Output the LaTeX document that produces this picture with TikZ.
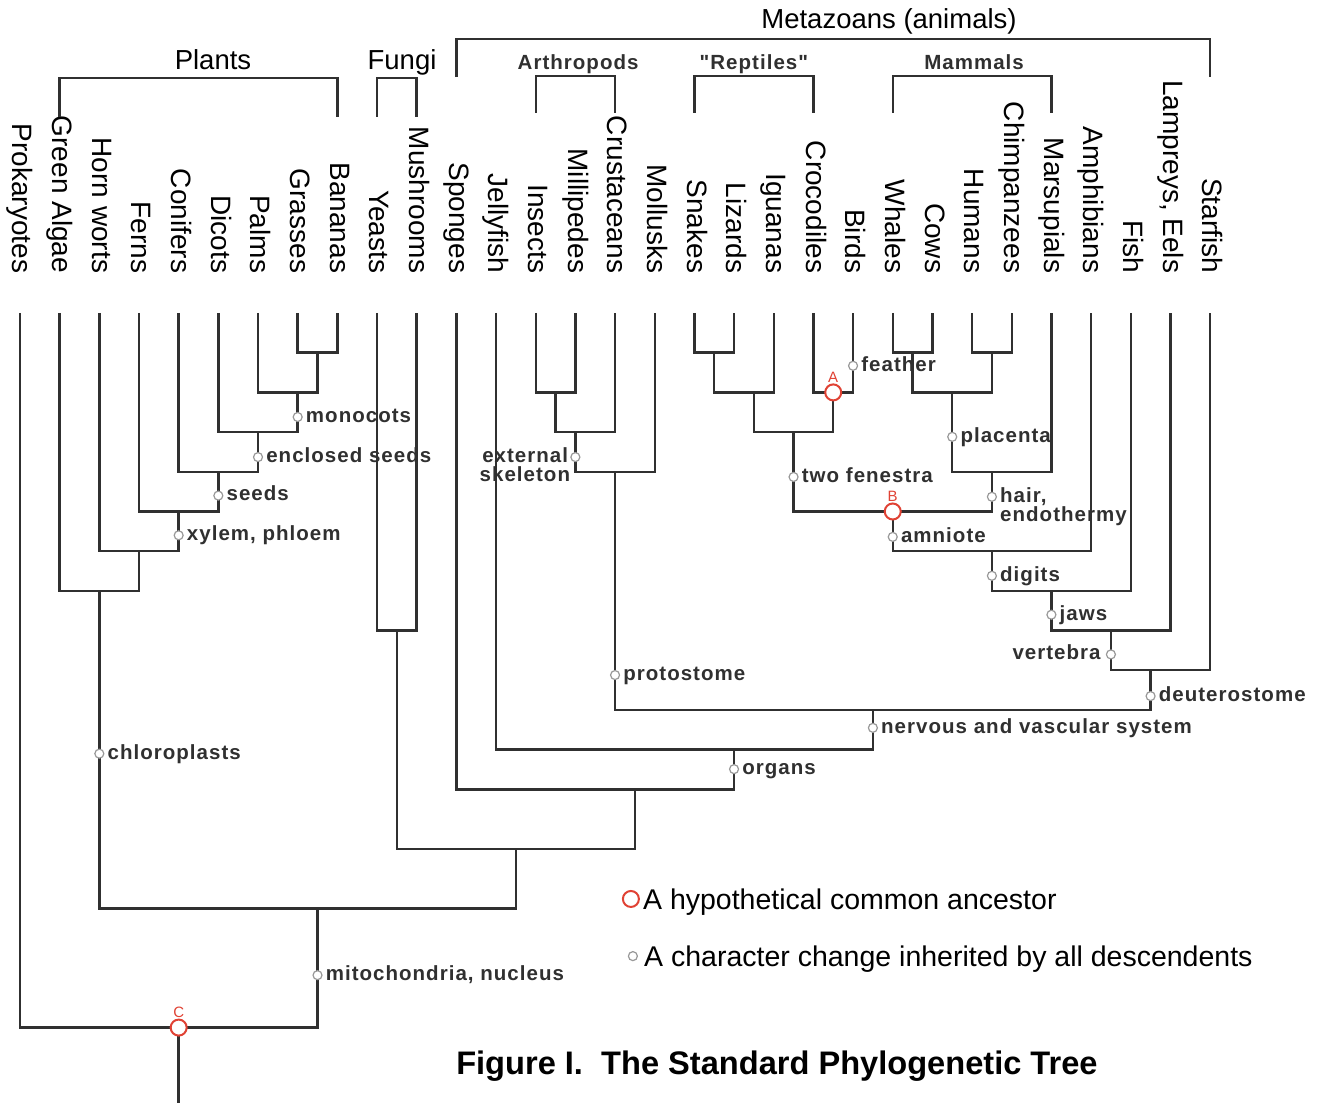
\documentclass[tikz,border=0pt]{standalone}
\usepackage{fontspec}
\setmainfont{Liberation Sans}
\newfontfamily\traitfont[LetterSpace=5]{Liberation Sans}
\definecolor{ancred}{RGB}{224,66,52}
\definecolor{treegray}{RGB}{48,48,48}

\tikzset{
          branch/.style = {draw=treegray, line width=2.4pt},
          change/.style = {circle, draw=black!40, fill=white, line width=1.2pt, minimum size=9pt, inner sep=0pt},
          ancestor/.style = {circle, draw=ancred, fill=white, line width=2pt, minimum size=16pt, inner sep=0pt},
          anclabel/.style = {anchor=south, inner sep=1pt, text=ancred, font=\fontsize{15}{15}\selectfont},
          taxon/.style = {rotate=-90, anchor=east, inner sep=0pt, text height=20pt, text depth=5.6pt, font=\fontsize{28}{30}\selectfont},
          group/.style = {anchor=base, inner sep=0pt, font=\fontsize{27.5}{30}\selectfont},
          trait/.style = {inner sep=0pt, text height=14.8pt, text depth=4.1pt, text=treegray, font=\traitfont\bfseries\fontsize{20.5}{22}\selectfont},
          keytext/.style = {anchor=west, inner sep=0pt, text height=20.5pt, text depth=0pt, font=\fontsize{28.5}{30}\selectfont},
          caption/.style = {anchor=base, inner sep=0pt, font=\bfseries\fontsize{32.6}{34}\selectfont}
        }

\begin{document}
\begin{tikzpicture}[x=39.67pt,y=39.7pt]
          \useasboundingbox (-0.504,7.884) rectangle (32.796,-19.899);

          % taxa along the top
          \foreach \i/\name in {0/Prokaryotes, 1/Green Algae, 2/Horn worts, 3/Ferns, 4/Conifers, 5/Dicots, 6/Palms, 7/Grasses, 8/Bananas, 9/Yeasts, 10/Mushrooms, 11/Sponges, 12/Jellyfish, 13/Insects, 14/Millipedes, 15/Crustaceans, 16/Mollusks, 17/Snakes, 18/Lizards, 19/Iguanas, 20/Crocodiles, 21/Birds, 22/Whales, 23/Cows, 24/Humans, 25/Chimpanzees, 26/Marsupials, 27/Amphibians, 28/Fish, 29/{Lampreys, Eels}, 30/Starfish}{
            \coordinate (tip\i) at (\i,0);
            \node[taxon] (taxon\i) at (\i,1) {\name};
          }

          % group brackets
          \foreach \a/\b/\lo/\hi in {1/8/4.94/5.92, 9/10/4.94/5.92, 11/30/5.94/6.90, 13/15/5.04/5.97, 17/20/5.04/5.97, 22/26/5.04/5.97}{
            \draw[branch] (\a,\lo) -- (\a,\hi) -- (\b,\hi) -- (\b,\lo);
          }
          \node[group] (plantsname) at (4.865,6.121) {Plants};
          \node[group] (funginame) at (9.63,6.121) {Fungi};
          \node[group] (metazoaname) at (21.906,7.154) {Metazoans (animals)};
          \node[trait, anchor=base] (arthroname) at (14.07,6.134) {Arthropods};
          \node[trait, anchor=base] (reptname) at (18.5,6.134) {"Reptiles"};
          \node[trait, anchor=base] (mammname) at (24.05,6.134) {Mammals};

          % branch points
          \coordinate (gb) at (7.5,-1);
          \coordinate (mono) at (7,-2);
          \coordinate (angio) at (6,-3);
          \coordinate (seedpl) at (5,-4);
          \coordinate (vascpl) at (4,-5);
          \coordinate (landpl) at (3,-6);
          \coordinate (plantae) at (2,-7);
          \coordinate (fungj) at (9.5,-8);
          \coordinate (insmil) at (13.5,-2);
          \coordinate (mandib) at (14,-3);
          \coordinate (protoj) at (15,-4);
          \coordinate (snliz) at (17.5,-1);
          \coordinate (squam) at (18.5,-2);
          \coordinate (archo) at (20.5,-2);
          \coordinate (diaps) at (19.5,-3);
          \coordinate (whcow) at (22.5,-1);
          \coordinate (huchim) at (24.5,-1);
          \coordinate (plac) at (23.5,-2);
          \coordinate (mammj) at (24.5,-4);
          \coordinate (amnio) at (22,-5);
          \coordinate (tetra) at (24.5,-6);
          \coordinate (gnath) at (26,-7);
          \coordinate (vertj) at (27.5,-8);
          \coordinate (deutj) at (28.5,-9);
          \coordinate (bilat) at (21.5,-10);
          \coordinate (eumet) at (18,-11);
          \coordinate (metaz) at (15.5,-12);
          \coordinate (opist) at (12.5,-13.5);
          \coordinate (eukar) at (7.5,-15);
          \coordinate (life) at (4,-18);
          \coordinate (root) at (4,-19.9);

          \foreach \a/\j/\b in {tip7/gb/tip8, tip6/mono/gb, tip5/angio/mono, tip4/seedpl/angio, tip3/vascpl/seedpl, tip2/landpl/vascpl, tip1/plantae/landpl, tip9/fungj/tip10, tip13/insmil/tip14, insmil/mandib/tip15, mandib/protoj/tip16, tip17/snliz/tip18, snliz/squam/tip19, tip20/archo/tip21, squam/diaps/archo, tip22/whcow/tip23, tip24/huchim/tip25, whcow/plac/huchim, plac/mammj/tip26, diaps/amnio/mammj, amnio/tetra/tip27, tetra/gnath/tip28, gnath/vertj/tip29, vertj/deutj/tip30, protoj/bilat/deutj, tip12/eumet/bilat, tip11/metaz/eumet, fungj/opist/metaz, plantae/eukar/opist, tip0/life/eukar}{
            \draw[branch] (\a) |- (\j) -| (\b);
          }
          \draw[branch] (life) -- (root);

          % character changes
          \foreach \nm/\x/\y/\txt in {monocots/7/2.62/monocots, enclosed/6/3.63/enclosed seeds, seeds/5/4.6/seeds, xylem/4/5.6/{xylem, phloem}, chloro/2/11.1/chloroplasts, mito/7.5/16.68/{mitochondria, nucleus}, protost/15/9.12/protostome, feather/21/1.33/feather, fenestra/19.5/4.13/two fenestra, placenta/23.5/3.12/placenta, hair/24.5/4.63/{hair,}, amniote/22/5.64/amniote, digits/24.5/6.62/digits, jaws/26/7.6/jaws, deutero/28.5/9.65/deuterostome, nervous/21.5/10.45/nervous and vascular system, organs/18/11.49/organs}{
            \node[change] (\nm) at (\x,-\y) {};
            \node[trait, anchor=west] (\nm lab) at ([xshift=3pt]\nm.east) {\txt};
          }
          \node[trait, anchor=west] (endolab) at ([yshift=-19pt]hairlab.west) {endothermy};

          \node[change] (vertebra) at (27.5,-8.6) {};
          \node[trait, anchor=east] (vertebralab) at ([xshift=-5pt]vertebra.west) {vertebra};
          \node[change] (external) at (14,-3.63) {};
          \node[trait, anchor=east] (externallab) at ([xshift=-2pt]external.west) {external};
          \node[trait, anchor=east] (skeletonlab) at ([xshift=2pt,yshift=-19pt]externallab.east) {skeleton};

          % hypothetical ancestors
          \node[ancestor] (ancA) at (archo) {};
          \node[anclabel] (labA) at (ancA.north) {A};
          \node[ancestor] (ancB) at (amnio) {};
          \node[anclabel] (labB) at (ancB.north) {B};
          \node[ancestor] (ancC) at (life) {};
          \node[anclabel] (labC) at (ancC.north) {C};

          % key
          \node[ancestor] (keyanc) at (15.4,-14.76) {};
          \node[keytext] (keyanctext) at ([xshift=3pt]keyanc.east) {A hypothetical common ancestor};
          \node[change] (keychg) at (15.45,-16.2) {};
          \node[keytext] (keychgtext) at ([xshift=6pt]keychg.east) {A character change inherited by all descendents};

          \node[caption] (title) at (19.08,-19.19) {Figure I.~~The Standard Phylogenetic Tree};
        \end{tikzpicture}
\end{document}
